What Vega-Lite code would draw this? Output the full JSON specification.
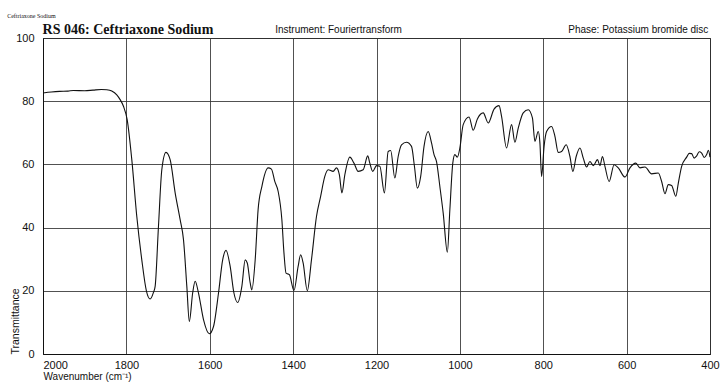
{
  "$schema": "https://vega.github.io/schema/vega-lite/v6.json",
  "autosize": {"type": "none"},
  "padding": {"left": 43, "top": 38, "right": 10, "bottom": 29},
  "width": 667,
  "height": 316,
  "background": "white",
  "config": {
    "view": {"stroke": "#222", "strokeWidth": 1},
    "font": "Liberation Sans",
    "axis": {
      "gridColor": "#333",
      "gridOpacity": 0.85,
      "gridWidth": 1,
      "domainColor": "#111",
      "ticks": false,
      "labelColor": "#111",
      "labelFont": "Liberation Sans",
      "labelFontSize": 11,
      "titleFont": "Liberation Sans",
      "titleFontSize": 11,
      "titleFontWeight": "normal",
      "titleColor": "#111"
    }
  },
  "layer": [
    {
      "data": {"values": [
        {"wn": 2000, "t": 82.6}, {"wn": 1980, "t": 82.9}, {"wn": 1960, "t": 83.1}, {"wn": 1940, "t": 83.2},
        {"wn": 1927, "t": 83.4}, {"wn": 1900, "t": 83.3}, {"wn": 1880, "t": 83.5}, {"wn": 1860, "t": 83.7},
        {"wn": 1847, "t": 83.6}, {"wn": 1835, "t": 83.2}, {"wn": 1823, "t": 82.0}, {"wn": 1815, "t": 80.5},
        {"wn": 1807, "t": 78.4}, {"wn": 1798, "t": 74.1}, {"wn": 1787, "t": 61.5}, {"wn": 1775, "t": 43.5},
        {"wn": 1763, "t": 29.8}, {"wn": 1752, "t": 20.0}, {"wn": 1743, "t": 17.4}, {"wn": 1735, "t": 19.5},
        {"wn": 1731, "t": 21.4}, {"wn": 1723, "t": 40.4}, {"wn": 1715, "t": 58.3}, {"wn": 1705, "t": 63.8},
        {"wn": 1695, "t": 61.5}, {"wn": 1683, "t": 51.0}, {"wn": 1671, "t": 42.5}, {"wn": 1663, "t": 36.2},
        {"wn": 1655, "t": 21.4}, {"wn": 1649, "t": 10.3}, {"wn": 1641, "t": 19.3}, {"wn": 1635, "t": 23.0},
        {"wn": 1627, "t": 19.3}, {"wn": 1615, "t": 10.9}, {"wn": 1601, "t": 6.4}, {"wn": 1591, "t": 8.7},
        {"wn": 1579, "t": 19.3}, {"wn": 1569, "t": 29.8}, {"wn": 1561, "t": 32.8}, {"wn": 1551, "t": 27.7},
        {"wn": 1542, "t": 19.3}, {"wn": 1533, "t": 16.3}, {"wn": 1523, "t": 21.4}, {"wn": 1515, "t": 29.8},
        {"wn": 1510, "t": 28.8}, {"wn": 1503, "t": 22.5}, {"wn": 1499, "t": 20.3}, {"wn": 1491, "t": 29.8},
        {"wn": 1484, "t": 45.7}, {"wn": 1475, "t": 53.0}, {"wn": 1460, "t": 58.9}, {"wn": 1452, "t": 58.5},
        {"wn": 1444, "t": 54.6}, {"wn": 1436, "t": 51.5}, {"wn": 1427, "t": 42.5}, {"wn": 1422, "t": 32.0},
        {"wn": 1417, "t": 25.6}, {"wn": 1409, "t": 25.1}, {"wn": 1398, "t": 20.1}, {"wn": 1388, "t": 27.7},
        {"wn": 1382, "t": 31.4}, {"wn": 1376, "t": 28.8}, {"wn": 1366, "t": 20.0}, {"wn": 1356, "t": 29.8},
        {"wn": 1344, "t": 43.5}, {"wn": 1334, "t": 49.9}, {"wn": 1324, "t": 56.2}, {"wn": 1316, "t": 58.3},
        {"wn": 1304, "t": 57.8}, {"wn": 1296, "t": 58.9}, {"wn": 1289, "t": 56.7}, {"wn": 1283, "t": 51.0},
        {"wn": 1276, "t": 56.7}, {"wn": 1264, "t": 62.3}, {"wn": 1254, "t": 60.4}, {"wn": 1244, "t": 57.8},
        {"wn": 1232, "t": 58.3}, {"wn": 1221, "t": 62.7}, {"wn": 1216, "t": 60.4}, {"wn": 1209, "t": 57.8},
        {"wn": 1200, "t": 59.6}, {"wn": 1192, "t": 59.4}, {"wn": 1181, "t": 51.0}, {"wn": 1172, "t": 64.1},
        {"wn": 1166, "t": 64.4}, {"wn": 1156, "t": 55.7}, {"wn": 1148, "t": 62.5}, {"wn": 1140, "t": 66.2},
        {"wn": 1128, "t": 67.0}, {"wn": 1116, "t": 65.7}, {"wn": 1109, "t": 59.4}, {"wn": 1102, "t": 52.5},
        {"wn": 1094, "t": 56.2}, {"wn": 1086, "t": 65.7}, {"wn": 1076, "t": 70.4}, {"wn": 1068, "t": 66.8},
        {"wn": 1062, "t": 63.1}, {"wn": 1056, "t": 60.9}, {"wn": 1048, "t": 53.0}, {"wn": 1040, "t": 44.6},
        {"wn": 1030, "t": 32.2}, {"wn": 1024, "t": 45.7}, {"wn": 1017, "t": 60.4}, {"wn": 1012, "t": 63.1},
        {"wn": 1006, "t": 62.3}, {"wn": 1000, "t": 65.2}, {"wn": 992, "t": 72.6}, {"wn": 978, "t": 75.0},
        {"wn": 968, "t": 70.8}, {"wn": 958, "t": 74.4}, {"wn": 944, "t": 76.3}, {"wn": 932, "t": 73.1},
        {"wn": 918, "t": 77.5}, {"wn": 906, "t": 78.6}, {"wn": 900, "t": 75.2}, {"wn": 888, "t": 65.2},
        {"wn": 876, "t": 72.6}, {"wn": 868, "t": 67.0}, {"wn": 860, "t": 71.5}, {"wn": 848, "t": 76.3},
        {"wn": 836, "t": 77.3}, {"wn": 826, "t": 74.7}, {"wn": 820, "t": 67.3}, {"wn": 812, "t": 70.4},
        {"wn": 808, "t": 66.8}, {"wn": 804, "t": 56.2}, {"wn": 798, "t": 65.7}, {"wn": 792, "t": 70.4},
        {"wn": 780, "t": 72.0}, {"wn": 772, "t": 68.9}, {"wn": 764, "t": 63.8}, {"wn": 756, "t": 64.1},
        {"wn": 745, "t": 66.2}, {"wn": 736, "t": 62.5}, {"wn": 729, "t": 57.8}, {"wn": 721, "t": 62.5},
        {"wn": 712, "t": 65.2}, {"wn": 704, "t": 62.0}, {"wn": 696, "t": 59.2}, {"wn": 688, "t": 60.9},
        {"wn": 680, "t": 59.6}, {"wn": 670, "t": 61.5}, {"wn": 664, "t": 59.6}, {"wn": 658, "t": 62.5},
        {"wn": 652, "t": 59.4}, {"wn": 642, "t": 54.6}, {"wn": 630, "t": 59.9}, {"wn": 620, "t": 58.9},
        {"wn": 604, "t": 56.0}, {"wn": 592, "t": 58.9}, {"wn": 578, "t": 60.4}, {"wn": 568, "t": 58.9},
        {"wn": 556, "t": 59.2}, {"wn": 540, "t": 57.0}, {"wn": 524, "t": 57.3}, {"wn": 516, "t": 54.6},
        {"wn": 508, "t": 50.7}, {"wn": 500, "t": 53.6}, {"wn": 492, "t": 53.3}, {"wn": 482, "t": 49.9},
        {"wn": 476, "t": 54.1}, {"wn": 468, "t": 59.4}, {"wn": 456, "t": 62.3}, {"wn": 450, "t": 63.5},
        {"wn": 444, "t": 63.4}, {"wn": 438, "t": 62.0}, {"wn": 432, "t": 62.7}, {"wn": 426, "t": 64.0},
        {"wn": 420, "t": 63.6}, {"wn": 414, "t": 62.2}, {"wn": 408, "t": 63.1}, {"wn": 404, "t": 64.5},
        {"wn": 400, "t": 62.3}
      ]},
      "mark": {"type": "line", "color": "#111", "strokeWidth": 1.1, "interpolate": "monotone"},
      "encoding": {
        "x": {
          "field": "wn", "type": "quantitative",
          "scale": {"domain": [400, 2000], "reverse": true, "nice": false, "zero": false},
          "axis": {
            "values": [2000, 1800, 1600, 1400, 1200, 1000, 800, 600, 400],
            "format": "d",
            "title": "Wavenumber (cm⁻¹)",
            "titleAnchor": "end",
            "titleAlign": "left",
            "titlePadding": 1,
            "titleFontSize": 10,
            "labelPadding": 5,
            "labelAlign": {"condition": {"test": "datum.value == 2000", "value": "left"}, "value": "center"}
          }
        },
        "y": {
          "field": "t", "type": "quantitative",
          "scale": {"domain": [0, 100], "nice": false},
          "axis": {
            "values": [0, 20, 40, 60, 80, 100],
            "title": "Transmittance",
            "titleAnchor": "start",
            "titlePadding": -5,
            "titleFontSize": 10.5,
            "labelPadding": 9
          }
        }
      }
    },
    {
      "data": {"values": [{"label": "RS 046: Ceftriaxone Sodium"}]},
      "mark": {"type": "text", "align": "left", "baseline": "alphabetic", "font": "Liberation Serif", "fontSize": 14, "fontWeight": "bold", "color": "#111"},
      "encoding": {"text": {"field": "label"}, "x": {"datum": 2001}, "y": {"datum": 101.4}}
    },
    {
      "data": {"values": [{"label": "Ceftriaxone Sodium"}]},
      "mark": {"type": "text", "align": "left", "baseline": "alphabetic", "font": "Liberation Serif", "fontSize": 6, "color": "#111"},
      "encoding": {"text": {"field": "label"}, "x": {"datum": 2086}, "y": {"datum": 106.3}}
    },
    {
      "data": {"values": [{"label": "Instrument: Fouriertransform"}]},
      "mark": {"type": "text", "align": "left", "baseline": "alphabetic", "font": "Liberation Sans", "fontSize": 10, "color": "#111"},
      "encoding": {"text": {"field": "label"}, "x": {"datum": 1443}, "y": {"datum": 101.5}}
    },
    {
      "data": {"values": [{"label": "Phase: Potassium bromide disc"}]},
      "mark": {"type": "text", "align": "right", "baseline": "alphabetic", "font": "Liberation Sans", "fontSize": 10, "color": "#111"},
      "encoding": {"text": {"field": "label"}, "x": {"datum": 404}, "y": {"datum": 101.5}}
    }
  ]
}
